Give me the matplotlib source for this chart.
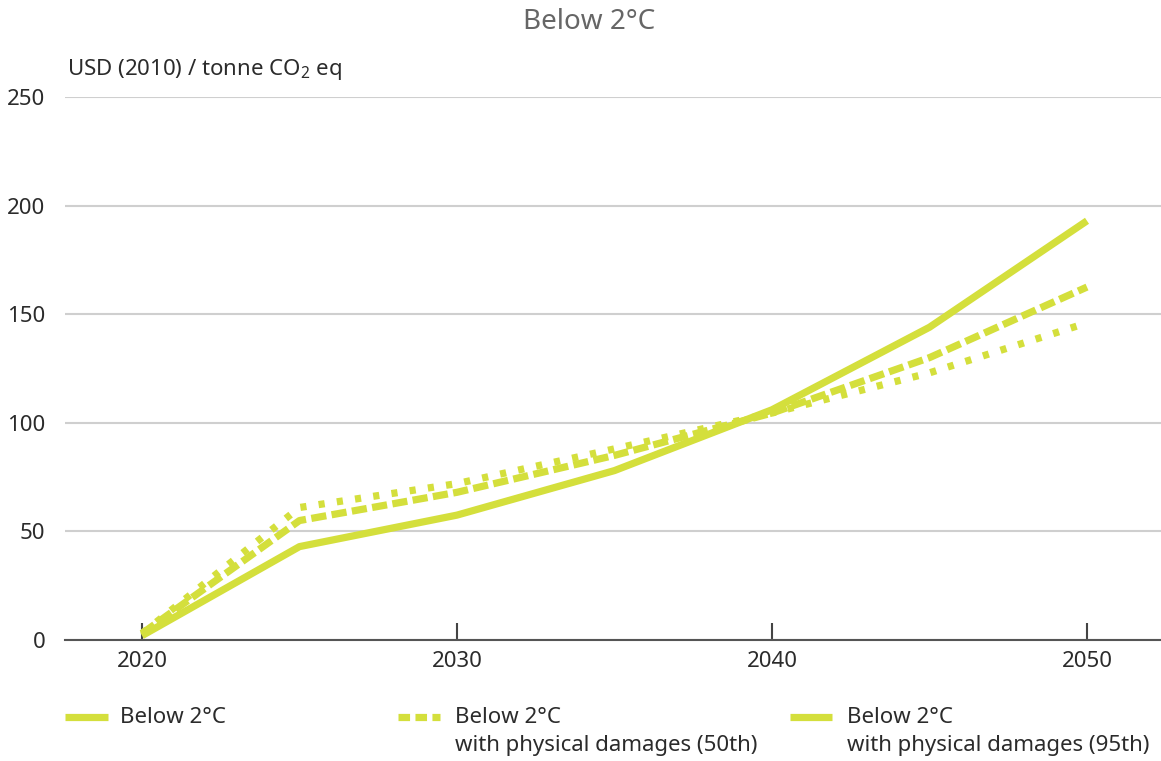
import matplotlib
matplotlib.use("Agg")
import matplotlib.pyplot as plt
from matplotlib.lines import Line2D

years = [2020, 2025, 2030, 2035, 2040, 2045, 2050]
below2 = [2, 43, 57.5, 78, 106, 144, 193]
damages50 = [3, 55, 68, 85, 104.5, 130, 162.5]
damages95 = [3, 61, 72, 88, 104.5, 123, 146]
yticks = [0, 50, 100, 150, 200, 250]
xticks = [2020, 2030, 2040, 2050]
labels = ["Below 2°C", "Below 2°C\nwith physical damages (50th)", "Below 2°C\nwith physical damages (95th)"]

FONT = ["Noto Sans", "DejaVu Sans"]
plt.rcParams["font.family"] = FONT
plt.rcParams["mathtext.fontset"] = "custom"
plt.rcParams["mathtext.rm"] = "Noto Sans"
plt.rcParams["mathtext.it"] = "Noto Sans"

COL = "#d4df3c"
TXT = "#2b2b2b"
FS = 16

fig = plt.figure(figsize=(11.61, 7.61), dpi=100)
ax = fig.add_axes([65/1161, 1-640/761, 1-65/1161, (640-97)/761])

lw = 5.2
ax.plot(years, below2, color=COL, lw=lw, solid_capstyle="butt", solid_joinstyle="round", zorder=3)
ax.plot(years, damages50, color=COL, lw=lw, dashes=(2.1, 0.75), dash_capstyle="butt", zorder=3)
ax.plot(years, damages95, color=COL, lw=lw, dashes=(0.85, 1.7), dash_capstyle="butt", zorder=3)

ax.set_xlim(2020 - 77/31.5, 2050 + 74/31.5)
ax.set_ylim(0, 250)
ax.set_yticks(yticks)
ax.set_xticks(xticks)
ax.yaxis.grid(True, color="#cfcfcf", lw=1.5)
ax.set_axisbelow(True)
for s in ["top", "right", "left"]:
    ax.spines[s].set_visible(False)
ax.spines["bottom"].set_color("#555555")
ax.spines["bottom"].set_linewidth(1.5)
ax.spines["bottom"].set_zorder(4)
ax.tick_params(axis="y", length=0, pad=14, labelsize=FS, labelcolor=TXT)
ax.tick_params(axis="x", direction="in", length=12, width=1.5, color="#444444", pad=8,
               labelsize=FS, labelcolor=TXT)

fig.text(589/1161, 1-22/761, "Below 2°C", ha="center", va="center", fontsize=20, color="#666666")
fig.text(67/1161, 1-70/761, "USD (2010) / tonne CO$_2$ eq", ha="left", va="center", fontsize=FS, color=TXT)

# legend
ly = 1 - 717/761
styles = [dict(), dict(dashes=(1.6, 0.75), dash_capstyle="butt"), dict()]
xs = [(65, 108, 120), (398, 440, 455), (790, 832, 847)]
for (x0, x1, xt), lab, st in zip(xs, labels, styles):
    fig.add_artist(Line2D([x0/1161, x1/1161], [ly, ly], transform=fig.transFigure,
                          color=COL, lw=lw, solid_capstyle="butt", **st))
    fig.text(xt/1161, 1-707/761, lab, ha="left", va="top", fontsize=FS, color=TXT, linespacing=1.45)

fig.savefig("out.png", dpi=100)
